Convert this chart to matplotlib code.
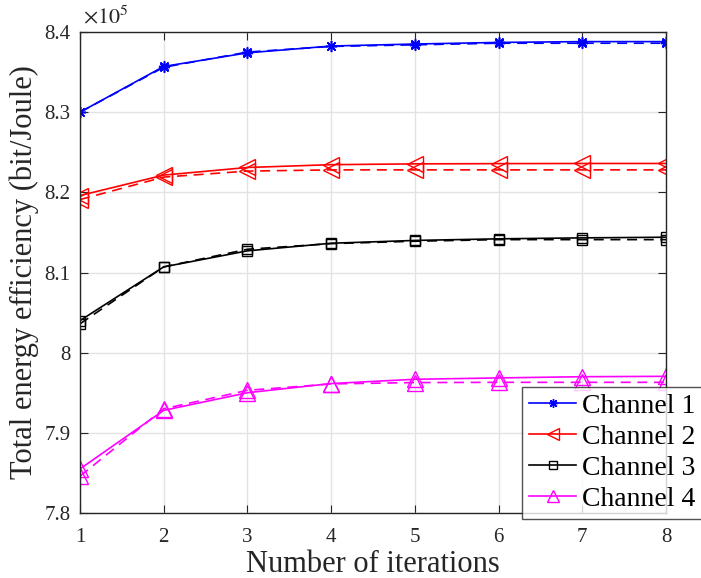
import matplotlib
matplotlib.use("Agg")
import matplotlib.pyplot as plt
import numpy as np

plt.rcParams["font.family"] = ["Liberation Serif", "DejaVu Serif"]
plt.rcParams["mathtext.fontset"] = "stix"

iterations = [1, 2, 3, 4, 5, 6, 7, 8]

# solid curves (legend entries)
ch1 = [8.300, 8.357, 8.374, 8.3825, 8.385, 8.387, 8.388, 8.388]
ch2 = [8.196, 8.2215, 8.231, 8.2345, 8.2355, 8.2358, 8.236, 8.236]
ch3 = [8.040, 8.107, 8.127, 8.1365, 8.140, 8.142, 8.1432, 8.144]
ch4 = [7.855, 7.928, 7.950, 7.9615, 7.9668, 7.9685, 7.970, 7.9705]

# dashed curves
ch1_d = [8.300, 8.356, 8.375, 8.382, 8.384, 8.386, 8.386, 8.386]
ch2_d = [8.191, 8.219, 8.2265, 8.228, 8.228, 8.228, 8.228, 8.228]
ch3_d = [8.036, 8.107, 8.129, 8.136, 8.139, 8.141, 8.141, 8.141]
ch4_d = [7.846, 7.930, 7.953, 7.961, 7.9627, 7.963, 7.963, 7.963]

labels = ["Channel 1", "Channel 2", "Channel 3", "Channel 4"]
colors = ["#0000ff", "#ff0000", "#000000", "#ff00ff"]
markers = [(8, 2, 0), "<", "s", "^"]
msizes = [8, 11, 7, 11]

fig = plt.figure(figsize=(7.01, 5.78), dpi=100)
ax = fig.add_axes([80 / 701, 1 - 513 / 578, 586 / 701, 481 / 578])

solid = [ch1, ch2, ch3, ch4]
dashed = [ch1_d, ch2_d, ch3_d, ch4_d]
for s, d, lab, c, m, ms in zip(solid, dashed, labels, colors, markers, msizes):
    ax.plot(iterations, np.array(s) * 1e5, color=c, marker=m, ms=ms, mfc="none",
            mec=c, lw=1.2, mew=1.0, label=lab)
    ax.plot(iterations, np.array(d) * 1e5, color=c, marker=m, ms=ms, mfc="none",
            mec=c, lw=1.2, mew=1.0, ls=(0, (6, 4)))

ax.set_xlim(1, 8)
ax.set_ylim(7.8e5, 8.4e5)
ax.set_xticks(iterations)
ax.set_yticks(np.arange(7.8e5, 8.41e5, 1e4))
ax.set_yticklabels(["7.8", "7.9", "8", "8.1", "8.2", "8.3", "8.4"])
ax.grid(True, color="#e3e3e3", lw=1.0)
ax.set_axisbelow(True)
ax.tick_params(direction="in", top=True, right=True, labelsize=15, length=6,
               colors="#262626")
ax.tick_params(axis="x", pad=11)
ax.tick_params(axis="y", pad=7)
for sp in ax.spines.values():
    sp.set_color("#262626")
    sp.set_linewidth(1.0)

ax.text(0.005, 1.008, r"$\times10^{5}$", transform=ax.transAxes, fontsize=16,
        color="#262626", ha="left", va="bottom")

ax.set_xlabel("Number of iterations", fontsize=22, color="#262626", labelpad=2)
ax.set_ylabel("Total energy efficiency (bit/Joule)", fontsize=22, color="#262626",
              labelpad=4)

leg = ax.legend(loc="lower right", bbox_to_anchor=(1.062, -0.0125), fontsize=20,
                frameon=True, fancybox=False, edgecolor="#262626",
                borderpad=0.25, labelspacing=0.2, handlelength=1.7,
                handletextpad=0.2, borderaxespad=0, markerscale=0.8)
leg.get_frame().set_linewidth(1.0)

fig.savefig("out.png", dpi=100)
